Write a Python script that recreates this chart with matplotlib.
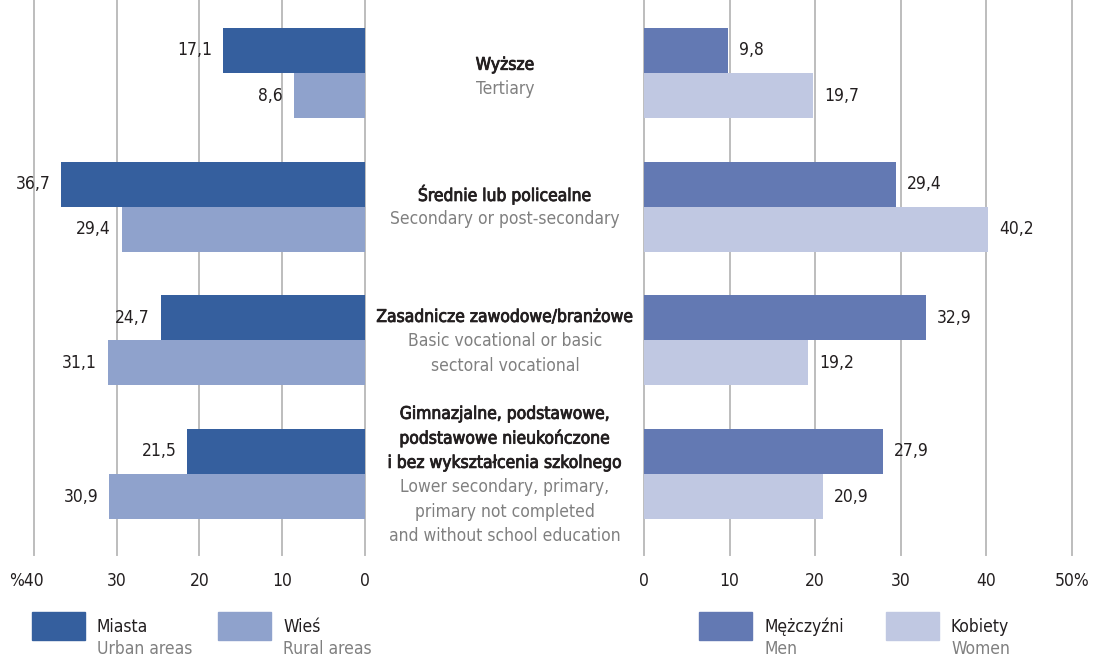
import matplotlib.pyplot as plt
from matplotlib.patches import Rectangle
from matplotlib import font_manager, patheffects
from matplotlib.transforms import ScaledTranslation

# a condensed face is closest to the original; fall back to Roboto
cond = [f for f in font_manager.fontManager.ttflist
        if f.name == 'DejaVu Sans' and f.stretch == 'condensed']
if cond:
    plt.rcParams['font.family'] = ['DejaVu Sans']
    plt.rcParams['font.stretch'] = 'condensed'
else:
    plt.rcParams['font.family'] = ['Roboto', 'DejaVu Sans']
fs = 12.5

# data
cat_pl = ['Wyższe', 'Średnie lub policealne', 'Zasadnicze zawodowe/branżowe',
          'Gimnazjalne, podstawowe,\npodstawowe nieukończone\ni bez wykształcenia szkolnego']
cat_en = ['Tertiary', 'Secondary or post-secondary', 'Basic vocational or basic\nsectoral vocational',
          'Lower secondary, primary,\nprimary not completed\nand without school education']
urban = [17.1, 36.7, 24.7, 21.5]
rural = [8.6, 29.4, 31.1, 30.9]
men = [9.8, 29.4, 32.9, 27.9]
women = [19.7, 40.2, 19.2, 20.9]

c_urban, c_rural = '#355f9e', '#8fa2cc'
c_men, c_women = '#6379b3', '#c0c8e2'
dark, grey = '#231f20', '#808080'
semi = [patheffects.withStroke(linewidth=0.6, foreground=dark)]

W, H = 1096, 658
fig = plt.figure(figsize=(W / 100, H / 100), dpi=100)
axl = fig.add_axes([34 / W, 1 - 555 / H, 331 / W, 555 / H])
axr = fig.add_axes([644 / W, 1 - 555 / H, 428 / W, 555 / H])

h = 0.337
y = list(range(len(urban)))

def fmt(v):
    return f'{v:.1f}'.replace('.', ',')

for ax in (axl, axr):
    ax.set_ylim(3.606, -0.546)
    ax.set_yticks([])
    for s in ax.spines.values():
        s.set_visible(False)
    ax.set_axisbelow(True)
    ax.tick_params(axis='x', length=0, pad=12, labelsize=fs, labelcolor=dark)

axl.barh([i - h / 2 for i in y], urban, height=h, color=c_urban)
axl.barh([i + h / 2 for i in y], rural, height=h, color=c_rural)
axl.set_xlim(40, 0)
axl.set_xticks([40, 30, 20, 10, 0])
axl.set_xticklabels(['%40', '30', '20', '10', '0'])
lab = axl.get_xticklabels()[0]
lab.set_transform(lab.get_transform() + ScaledTranslation(-0.08, 0, fig.dpi_scale_trans))
for i in y:
    axl.text(urban[i] + 1.3, i - h / 2, fmt(urban[i]), ha='right', va='center', fontsize=fs, color=dark)
    axl.text(rural[i] + 1.3, i + h / 2, fmt(rural[i]), ha='right', va='center', fontsize=fs, color=dark)

axr.barh([i - h / 2 for i in y], men, height=h, color=c_men)
axr.barh([i + h / 2 for i in y], women, height=h, color=c_women)
axr.set_xlim(0, 50)
axr.set_xticks([0, 10, 20, 30, 40, 50])
axr.set_xticklabels(['0', '10', '20', '30', '40', '50%'])
for i in y:
    axr.text(men[i] + 1.3, i - h / 2, fmt(men[i]), ha='left', va='center', fontsize=fs, color=dark)
    axr.text(women[i] + 1.3, i + h / 2, fmt(women[i]), ha='left', va='center', fontsize=fs, color=dark)

for ax in (axl, axr):
    ax.grid(axis='x', color='#bdbdbd', linewidth=1.4)
    for gl in ax.get_xgridlines():
        gl.set_clip_on(False)

# centre labels
ls = 24.5 / H
shift = [4, 0, 1, 1]
for i in y:
    pl = cat_pl[i].split('\n')
    en = cat_en[i].split('\n')
    lines = [(t, dark) for t in pl] + [(t, grey) for t in en]
    yc = 1 - (73 + i * 133.7 + shift[i]) / H
    top = yc + (len(lines) - 1) * ls / 2
    for k, (t, c) in enumerate(lines):
        fig.text(505 / W, top - k * ls, t, ha='center', va='center', fontsize=fs, color=c,
                 path_effects=semi if c == dark else None)

# legend
leg = [('Miasta', 'Urban areas', c_urban, 32), ('Wieś', 'Rural areas', c_rural, 218),
       ('Mężczyźni', 'Men', c_men, 699), ('Kobiety', 'Women', c_women, 886)]
for pl, en, c, x0 in leg:
    fig.patches.append(Rectangle((x0 / W, 1 - 640 / H), 53 / W, 28 / H, color=c, transform=fig.transFigure))
    fig.text((x0 + 65) / W, 1 - 627 / H, pl, ha='left', va='center', fontsize=fs, color=dark)
    fig.text((x0 + 65) / W, 1 - 649 / H, en, ha='left', va='center', fontsize=fs, color=grey)

fig.savefig('out.png', dpi=100)
